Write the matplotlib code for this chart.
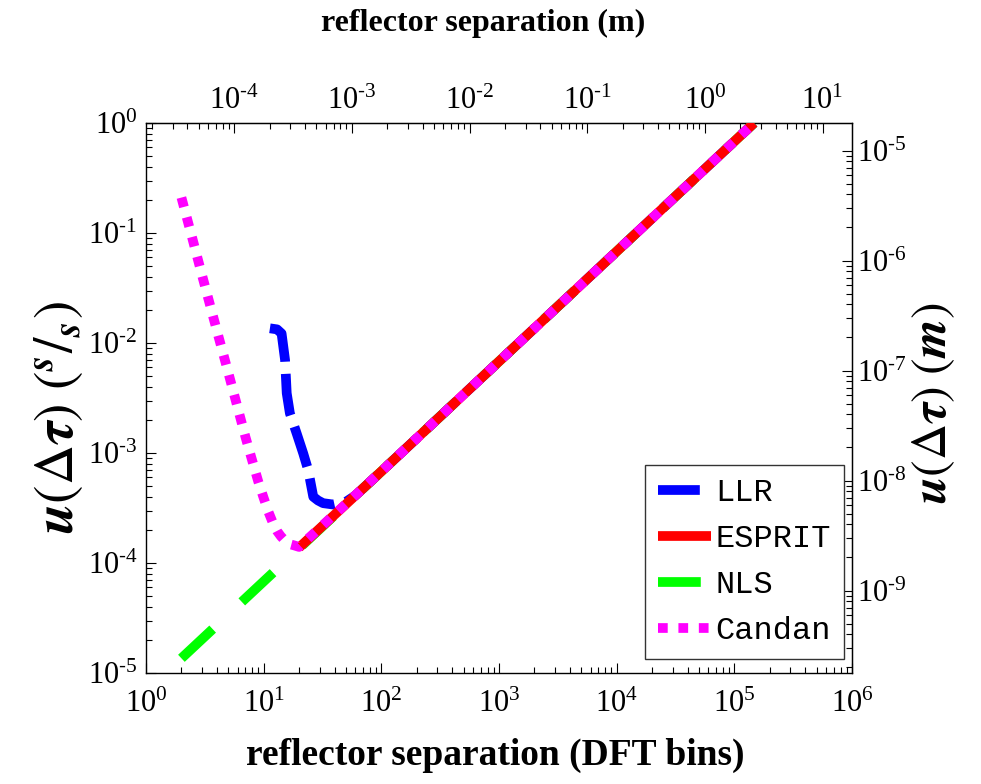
import numpy as np
from matplotlib import pyplot as plt
from matplotlib.ticker import FuncFormatter

# fonts: Times-like numbers, Courier-like legend
plt.rcParams["font.family"] = "Liberation Serif"
plt.rcParams["mathtext.fontset"] = "stix"

# metres per DFT bin, used for the top and right axes
M_PER_BIN = 1.78e-5

llr_x = [11.3, 13, 14.2, 15.2, 15.7, 16.7, 19.1, 21.7, 23.9, 26.4, 29, 32, 39, 50, 60,
         100, 1e3, 1e4, 1e5, 1.47e5]
llr_y = [0.0136, 0.0133, 0.0122, 0.0070, 0.0035, 0.0023, 0.0015, 9.9e-4, 7.0e-4, 4.0e-4,
         3.7e-4, 3.5e-4, 3.4e-4, 3.6e-4, 4.1e-4, 6.8e-4, 6.8e-3, 6.8e-2, 0.68, 1.0]

esprit_x = [20, 100, 1e3, 1e4, 1e5, 1.47e5]
esprit_y = [1.38e-4, 6.8e-4, 6.8e-3, 6.8e-2, 0.68, 1.0]

nls_x = [2, 5, 10, 20, 100, 1e3, 1e4, 1e5, 1.47e5]
nls_y = [1.36e-5, 3.4e-5, 6.8e-5, 1.36e-4, 6.8e-4, 6.8e-3, 6.8e-2, 0.68, 1.0]

candan_x = [2, 2.5, 3, 4, 5, 6, 7, 8, 9, 10, 11, 12, 13, 14, 16, 18, 20,
            100, 1e3, 1e4, 1e5, 1.47e5]
candan_y = [0.21, 0.086, 0.041, 0.013, 0.0054, 0.0026, 0.0014, 8.5e-4, 5.5e-4, 3.9e-4,
            2.9e-4, 2.3e-4, 1.95e-4, 1.75e-4, 1.5e-4, 1.45e-4, 1.4e-4,
            6.8e-4, 6.8e-3, 6.8e-2, 0.68, 1.0]


def decade_label(v, pos):
    # 10^n with a plain hyphen in the exponent
    n = int(round(np.log10(v)))
    if abs(np.log10(v) - n) > 1e-6:
        return ""
    exp = r"\text{-}%d" % -n if n < 0 else "%d" % n
    return r"$\mathdefault{10^{%s}}$" % exp


fig = plt.figure(figsize=(9.81, 7.84), dpi=100)
ax = fig.add_axes([146 / 981, 1 - 673 / 784, 706 / 981, 550 / 784])
ax.set_xscale("log")
ax.set_yscale("log")
ax.set_xlim(1, 1e6)
ax.set_ylim(1e-5, 1)

lw = 7
llr, = ax.plot(llr_x, llr_y, color="#0000ff", lw=lw, dashes=(4.3, 1.25), label="LLR", zorder=2)
nls, = ax.plot(nls_x, nls_y, color="#00ff00", lw=lw, dashes=(4.4, 4.1), label="NLS", zorder=3)
esprit, = ax.plot(esprit_x, esprit_y, color="#ff0000", lw=lw, label="ESPRIT", zorder=4)
candan, = ax.plot(candan_x, candan_y, color="#ff00ff", lw=lw, dashes=(1.0, 1.1), label="Candan", zorder=5)
for ln in (llr, nls, esprit, candan):
    ln.set_dash_capstyle("butt")
    ln.set_solid_capstyle("butt")

# ticks inside on every side, like the old matlab style
ax.tick_params(which="both", direction="in", labelsize=22, top=False, right=False)
ax.tick_params(which="major", length=7, width=0.8)
ax.tick_params(which="minor", length=4, width=0.8)
ax.tick_params(axis="x", which="major", pad=12)
ax.tick_params(axis="y", which="major", pad=6)
ax.xaxis.set_major_formatter(FuncFormatter(decade_label))
ax.yaxis.set_major_formatter(FuncFormatter(decade_label))
for sp in ax.spines.values():
    sp.set_linewidth(1.0)

top = ax.secondary_xaxis("top", functions=(lambda b: b * M_PER_BIN, lambda m: m / M_PER_BIN))
right = ax.secondary_yaxis("right", functions=(lambda b: b * M_PER_BIN, lambda m: m / M_PER_BIN))
for sec in (top, right):
    sec.tick_params(which="both", direction="in", labelsize=22)
    sec.tick_params(which="major", length=7, width=0.8)
    sec.tick_params(which="minor", length=4, width=0.8)
top.tick_params(which="major", pad=5)
top.xaxis.set_major_formatter(FuncFormatter(decade_label))
right.yaxis.set_major_formatter(FuncFormatter(decade_label))

ax.set_xlabel("reflector separation (DFT bins)", fontsize=27, fontweight="bold", labelpad=14)
ax.xaxis.label.set_x(0.495)
top.set_xlabel("reflector separation (m)", fontsize=23, fontweight="bold", labelpad=40)
top.xaxis.label.set_x(0.477)
ax.set_ylabel(r"$\mathbfit{u}(\Delta\mathbfit{\tau})\ (^{\mathbfit{s}}/_{\mathbfit{s}})$",
              fontsize=40, labelpad=2)
ax.yaxis.label.set_y(0.464)
right.set_ylabel(r"$\mathbfit{u}(\Delta\mathbfit{\tau})\ (\mathbfit{m})$",
                 fontsize=36, labelpad=3)
right.yaxis.label.set_y(0.49)

leg = ax.legend(handles=[llr, esprit, nls, candan], loc="upper left",
                bbox_to_anchor=(0.707, 0.378), borderaxespad=0,
                prop={"family": "Liberation Mono", "size": 23},
                handlelength=1.65, handletextpad=0.15, labelspacing=0.5,
                borderpad=0.4, fancybox=False, framealpha=1, edgecolor="#333333")
leg.get_frame().set_linewidth(1.0)

fig.savefig("out.png", dpi=100)
